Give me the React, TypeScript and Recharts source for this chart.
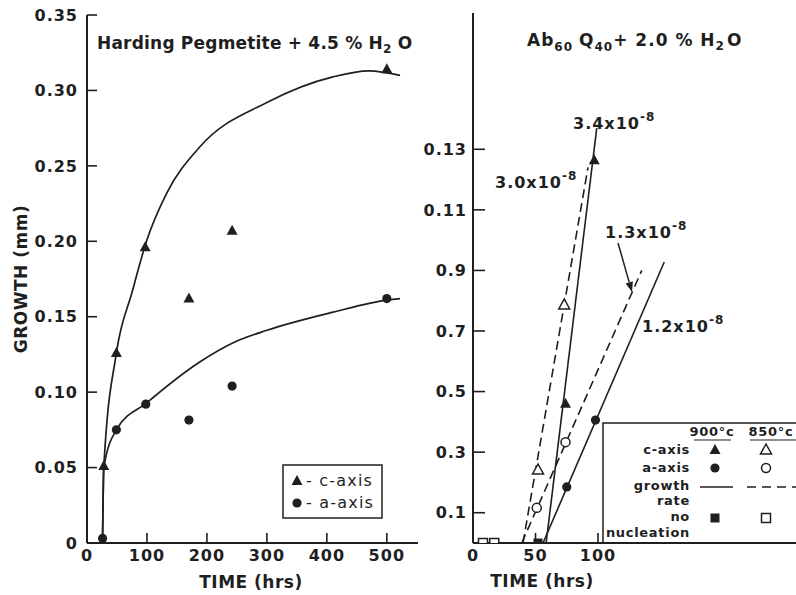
import React from 'react';
import { ComposedChart, XAxis, YAxis, Line, Scatter, Customized } from 'recharts';

const INK = '#1f1f1f';
const FONT = '"DejaVu Sans", Verdana, sans-serif';

// ---------- Left panel: Harding Pegmetite + 4.5 % H2O ----------
const leftXTicks = [0, 100, 200, 300, 400, 500];
const leftTopTicks = [100, 200, 300, 400, 500];
const leftYTicks = [0, 0.05, 0.1, 0.15, 0.2, 0.25, 0.3, 0.35];
const leftYTickLabels = ['0', '0.05', '0.10', '0.15', '0.20', '0.25', '0.30', '0.35'];
const leftRightTicks = [0.05, 0.1, 0.15, 0.2, 0.25, 0.3];

const cAxisTime = [28, 49, 97, 170, 242, 500];
const cAxisGrowth = [0.051, 0.126, 0.196, 0.162, 0.207, 0.314];
const aAxisTime = [26, 49, 98, 170, 242, 500];
const aAxisGrowth = [0.003, 0.075, 0.092, 0.0815, 0.104, 0.162];

const cCurveTime = [26, 28, 49, 75, 100, 133, 188, 300, 410, 470, 522];
const cCurveGrowth = [0.003, 0.05, 0.126, 0.166, 0.201, 0.232, 0.2625, 0.292, 0.309, 0.313, 0.31];
const aCurveTime = [26, 28, 49, 100, 188, 243, 300, 410, 500, 522];
const aCurveGrowth = [0.003, 0.05, 0.075, 0.093, 0.12, 0.1326, 0.141, 0.153, 0.161, 0.162];

// ---------- Right panel: Ab60 Q40 + 2.0 % H2O ----------
const rightXTicks = [0, 50, 100];
const rightXTickLabels = ['0', '50', '100'];
const rightTopTicks = [50, 100];
const rightYTicks = [0.01, 0.03, 0.05, 0.07, 0.09, 0.11, 0.13];
const rightYTickLabels = ['0.1', '0.3', '0.5', '0.7', '0.9', '0.11', '0.13'];

const c900Time = [74, 97];
const c900Growth = [0.046, 0.1264];
const a900Time = [75, 98];
const a900Growth = [0.0185, 0.0406];
const c850Time = [52, 73];
const c850Growth = [0.0241, 0.0786];
const a850Time = [51, 74];
const a850Growth = [0.0116, 0.0333];
const noNuc900Time = [52];
const noNuc900Growth = [0];
const noNuc850Time = [8, 17];
const noNuc850Growth = [0, 0];

const c900RateTime = [58.5, 99];
const c900RateGrowth = [0, 0.137];
const a900RateTime = [56, 153];
const a900RateGrowth = [0, 0.0928];
const c850RateTime = [40, 92];
const c850RateGrowth = [0, 0.124];
const a850RateTime = [39, 135];
const a850RateGrowth = [0, 0.09];

const zip = (ts: number[], gs: number[]) => ts.map((t, i) => ({ t, g: gs[i] }));
const labelFor = (ticks: number[], labels: string[]) => (v: number) => {
  const i = ticks.findIndex((x) => Math.abs(x - v) < 1e-9);
  return i >= 0 ? labels[i] : '';
};

const tickFont = { fill: INK, fontSize: 16, fontFamily: FONT, fontWeight: 700, letterSpacing: 1 };
const axisLine = { stroke: INK, strokeWidth: 2 };
const tickLine = { stroke: INK, strokeWidth: 1.6 };
const blank = () => '';

const FilledTri = (p: any) => (
  <polygon points={`${p.cx},${p.cy - 6} ${p.cx - 5.5},${p.cy + 4} ${p.cx + 5.5},${p.cy + 4}`} fill={INK} />
);
const OpenTri = (p: any) => (
  <polygon points={`${p.cx},${p.cy - 6} ${p.cx - 5.5},${p.cy + 4} ${p.cx + 5.5},${p.cy + 4}`} fill="#fff" stroke={INK} strokeWidth={1.5} />
);
const FilledDot = (p: any) => <circle cx={p.cx} cy={p.cy} r={4.6} fill={INK} />;
const OpenDot = (p: any) => <circle cx={p.cx} cy={p.cy} r={4.5} fill="#fff" stroke={INK} strokeWidth={1.5} />;
const FilledSq = (p: any) => <rect x={p.cx - 4.5} y={p.cy - 4.5} width={9} height={9} fill={INK} />;
const OpenSq = (p: any) => <rect x={p.cx - 4.5} y={p.cy - 4.5} width={9} height={9} fill="#fff" stroke={INK} strokeWidth={1.5} />;

const txt = { fill: INK, fontFamily: FONT, fontWeight: 700 } as const;

const LeftOverlay = () => (
  <g>
    <text x={97} y={49} fontSize={17} letterSpacing={0.2} {...txt}>
      Harding Pegmetite + 4.5 % H
      <tspan fontSize={12} dy={4}>2</tspan>
      <tspan dy={-4}> O</tspan>
    </text>
    <text transform="rotate(-90)" x={-279} y={27} fontSize={17} textAnchor="middle" letterSpacing={0.5} {...txt}>
      GROWTH (mm)
    </text>
    <text x={251} y={588} fontSize={17} textAnchor="middle" letterSpacing={0.5} {...txt}>
      TIME (hrs)
    </text>
    <rect x={283} y={465} width={99} height={53} fill="#fff" stroke={INK} strokeWidth={1.5} />
    <FilledTri cx={297} cy={481} />
    <text x={306} y={486} fontSize={16} letterSpacing={1.2} {...txt} fontWeight={400}>- c-axis</text>
    <FilledDot cx={297} cy={503} />
    <text x={306} y={508} fontSize={16} letterSpacing={1.2} {...txt} fontWeight={400}>- a-axis</text>
  </g>
);

const Rate = ({ x, y, m }: { x: number; y: number; m: string }) => (
  <text x={x} y={y} fontSize={16} letterSpacing={1} {...txt}>
    {m}x10
    <tspan fontSize={12} dy={-8}>-8</tspan>
  </text>
);

const arrowFrom = [618, 243];
const arrowTo = [632, 292];

const RightOverlay = () => {
  const dx = arrowTo[0] - arrowFrom[0];
  const dy = arrowTo[1] - arrowFrom[1];
  const L = Math.hypot(dx, dy);
  const ux = dx / L;
  const uy = dy / L;
  const bx = arrowTo[0] - ux * 10;
  const by = arrowTo[1] - uy * 10;
  const head = `${arrowTo[0]},${arrowTo[1]} ${bx - uy * 3.8},${by + ux * 3.8} ${bx + uy * 3.8},${by - ux * 3.8}`;
  const lf = { ...txt, fontSize: 13, letterSpacing: 0.7 };
  return (
    <g>
      <text x={527} y={46} fontSize={17} letterSpacing={1} {...txt}>
        Ab<tspan fontSize={12} dy={5}>60</tspan>
        <tspan dy={-5} dx={6}>Q</tspan>
        <tspan fontSize={12} dy={5}>40</tspan>
        <tspan dy={-5}>+ 2.0 % H</tspan>
        <tspan fontSize={12} dy={4}>2</tspan>
        <tspan dy={-4} dx={2}>O</tspan>
      </text>
      <text x={542} y={587} fontSize={17} textAnchor="middle" letterSpacing={0.5} {...txt}>
        TIME (hrs)
      </text>
      <Rate x={573} y={129} m="3.4" />
      <Rate x={495} y={188} m="3.0" />
      <Rate x={605} y={238} m="1.3" />
      <Rate x={642} y={332} m="1.2" />
      <line x1={arrowFrom[0]} y1={arrowFrom[1]} x2={bx} y2={by} stroke={INK} strokeWidth={1.5} />
      <polygon points={head} fill={INK} />
      <rect x={603} y={423} width={260} height={120} fill="#fff" stroke={INK} strokeWidth={1.5} />
      <text x={712} y={436} textAnchor="middle" {...lf}>900°c</text>
      <line x1={694} y1={440} x2={731} y2={440} stroke={INK} strokeWidth={1.2} />
      <text x={771} y={436} textAnchor="middle" {...lf}>850°c</text>
      <line x1={750} y1={440} x2={796} y2={440} stroke={INK} strokeWidth={1.2} />
      <text x={690} y={454} textAnchor="end" {...lf}>c-axis</text>
      <FilledTri cx={715} cy={450} />
      <OpenTri cx={766} cy={450} />
      <text x={690} y={472} textAnchor="end" {...lf}>a-axis</text>
      <FilledDot cx={715} cy={468} />
      <OpenDot cx={766} cy={468} />
      <text x={690} y={490} textAnchor="end" {...lf}>growth</text>
      <line x1={700} y1={487} x2={733} y2={487} stroke={INK} strokeWidth={1.5} />
      <line x1={747} y1={487} x2={800} y2={487} stroke={INK} strokeWidth={1.5} strokeDasharray="9 6" />
      <text x={690} y={505} textAnchor="end" {...lf}>rate</text>
      <text x={690} y={521} textAnchor="end" {...lf}>no</text>
      <FilledSq cx={715} cy={518} />
      <OpenSq cx={766} cy={518} />
      <text x={690} y={537} textAnchor="end" {...lf}>nucleation</text>
    </g>
  );
};

export default function App() {
  return (
    <div style={{ position: 'fixed', left: 0, top: 0, width: 796, height: 595, overflow: 'hidden', background: '#fff' }}>
      <div style={{ position: 'absolute', left: 0, top: 0 }}>
        <ComposedChart width={430} height={595} margin={{ top: 15, right: 12, bottom: 22, left: 17 }}>
          <XAxis xAxisId="b" type="number" dataKey="t" domain={[0, 552]} allowDataOverflow ticks={leftXTicks} interval={0}
            axisLine={axisLine} tickLine={tickLine} tickSize={-10} tickMargin={17} tick={tickFont} height={30} />
          <XAxis xAxisId="t" orientation="top" type="number" dataKey="t" domain={[0, 552]} allowDataOverflow ticks={leftTopTicks} interval={0}
            axisLine={axisLine} tickLine={tickLine} tickSize={-10} tickFormatter={blank} height={0} />
          <YAxis yAxisId="l" type="number" dataKey="g" domain={[0, 0.35]} allowDataOverflow ticks={leftYTicks} interval={0}
            axisLine={axisLine} tickLine={tickLine} tickSize={-10} tickMargin={19} tick={tickFont} width={70}
            tickFormatter={labelFor(leftYTicks, leftYTickLabels)} />
          <YAxis yAxisId="r" orientation="right" type="number" dataKey="g" domain={[0, 0.35]} allowDataOverflow ticks={leftRightTicks} interval={0}
            axisLine={axisLine} tickLine={tickLine} tickSize={-10} tickFormatter={blank} width={0} />
          <Line xAxisId="b" yAxisId="l" data={zip(cCurveTime, cCurveGrowth)} dataKey="g" type="monotone" stroke={INK} strokeWidth={1.7} dot={false} isAnimationActive={false} />
          <Line xAxisId="b" yAxisId="l" data={zip(aCurveTime, aCurveGrowth)} dataKey="g" type="monotone" stroke={INK} strokeWidth={1.7} dot={false} isAnimationActive={false} />
          <Scatter xAxisId="b" yAxisId="l" data={zip(cAxisTime, cAxisGrowth)} shape={FilledTri} isAnimationActive={false} />
          <Scatter xAxisId="b" yAxisId="l" data={zip(aAxisTime, aAxisGrowth)} shape={FilledDot} isAnimationActive={false} />
          <Customized component={LeftOverlay} />
        </ComposedChart>
      </div>
      <div style={{ position: 'absolute', left: 0, top: 0 }}>
        <ComposedChart width={820} height={595} margin={{ top: 13, right: 17, bottom: 22, left: 428 }}>
          <XAxis xAxisId="b" type="number" dataKey="t" domain={[0, 264]} allowDataOverflow ticks={rightXTicks} interval={0}
            axisLine={axisLine} tickLine={tickLine} tickSize={-10} tickMargin={17} tick={tickFont} height={30}
            tickFormatter={labelFor(rightXTicks, rightXTickLabels)} />
          <XAxis xAxisId="t" orientation="top" type="number" dataKey="t" domain={[0, 264]} allowDataOverflow ticks={rightTopTicks} interval={0}
            axisLine={axisLine} tickLine={tickLine} tickSize={-10} tickFormatter={blank} height={0} />
          <YAxis yAxisId="l" type="number" dataKey="g" domain={[0, 0.175]} allowDataOverflow ticks={rightYTicks} interval={0}
            axisLine={axisLine} tickLine={tickLine} tickSize={-12} tickMargin={18} tick={tickFont} width={45}
            tickFormatter={labelFor(rightYTicks, rightYTickLabels)} />
          <YAxis yAxisId="r" orientation="right" type="number" dataKey="g" domain={[0, 0.175]} allowDataOverflow ticks={rightYTicks} interval={0}
            axisLine={axisLine} tickLine={tickLine} tickSize={-12} tickFormatter={blank} width={0} />
          <Line xAxisId="b" yAxisId="l" data={zip(c900RateTime, c900RateGrowth)} dataKey="g" type="linear" stroke={INK} strokeWidth={1.6} dot={false} isAnimationActive={false} />
          <Line xAxisId="b" yAxisId="l" data={zip(a900RateTime, a900RateGrowth)} dataKey="g" type="linear" stroke={INK} strokeWidth={1.6} dot={false} isAnimationActive={false} />
          <Line xAxisId="b" yAxisId="l" data={zip(c850RateTime, c850RateGrowth)} dataKey="g" type="linear" stroke={INK} strokeWidth={1.6} strokeDasharray="9 5" dot={false} isAnimationActive={false} />
          <Line xAxisId="b" yAxisId="l" data={zip(a850RateTime, a850RateGrowth)} dataKey="g" type="linear" stroke={INK} strokeWidth={1.6} strokeDasharray="9 5" dot={false} isAnimationActive={false} />
          <Scatter xAxisId="b" yAxisId="l" data={zip(c900Time, c900Growth)} shape={FilledTri} isAnimationActive={false} />
          <Scatter xAxisId="b" yAxisId="l" data={zip(a900Time, a900Growth)} shape={FilledDot} isAnimationActive={false} />
          <Scatter xAxisId="b" yAxisId="l" data={zip(c850Time, c850Growth)} shape={OpenTri} isAnimationActive={false} />
          <Scatter xAxisId="b" yAxisId="l" data={zip(a850Time, a850Growth)} shape={OpenDot} isAnimationActive={false} />
          <Scatter xAxisId="b" yAxisId="l" data={zip(noNuc900Time, noNuc900Growth)} shape={FilledSq} isAnimationActive={false} />
          <Scatter xAxisId="b" yAxisId="l" data={zip(noNuc850Time, noNuc850Growth)} shape={OpenSq} isAnimationActive={false} />
          <Customized component={RightOverlay} />
        </ComposedChart>
      </div>
    </div>
  );
}
